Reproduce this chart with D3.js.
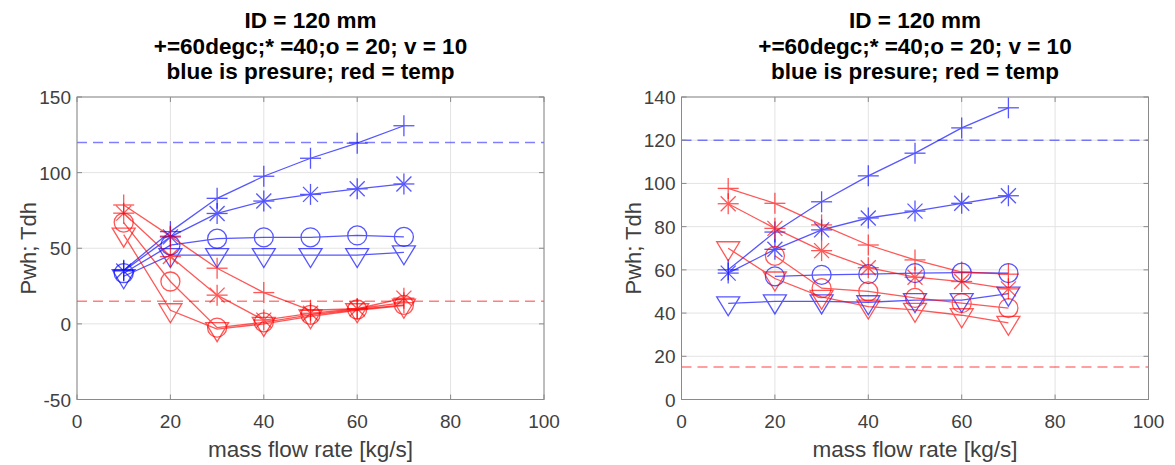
<!DOCTYPE html>
<html>
<head>
<meta charset="utf-8">
<script src="https://cdn.jsdelivr.net/npm/d3@7"></script>
<style>
  body { margin: 0; background: #fff; }
  text { font-family: "Liberation Sans", Arial, sans-serif; }
</style>
</head>
<body>
<div id="chart"></div>
<script>
// mass flow rates [kg/s]
var flow = [10, 20, 30, 40, 50, 60, 70];

// left panel
var leftBluePlus = [35.5, 61, 83, 97.6, 109.5, 119.5, 131];
var leftBlueStar = [35, 57.5, 73, 81.2, 85.6, 89.3, 92.5];
var leftBlueCirc = [33.5, 52, 56.3, 57.2, 57.2, 58.5, 57.5];
var leftBlueTri = [31.5, 45.5, 45.5, 45.5, 45.5, 45.5, 47.3];
var leftRedPlus = [78.6, 58, 36.8, 20.7, 9, 10, 14];
var leftRedStar = [73.2, 44.5, 19, 2.5, 7, 10, 17];
var leftRedCirc = [67, 28, -2.5, 1, 6, 9.5, 12.5];
var leftRedTri = [59, 9, -3.5, 0, 5, 9, 12];

// right panel (o series has no point at 10)
var rightBluePlus = [60, 77.5, 91.5, 103.5, 114, 125.7, 135];
var rightBlueStar = [58.5, 69.5, 78.5, 84, 87.2, 90.8, 94.3];
var rightBlueCirc = [null, 57, 57.7, 58, 58.5, 58.7, 58.5];
var rightBlueTri = [44.5, 45.4, 45.4, 45, 46, 46, 49];
var rightRedPlus = [97.7, 90.8, 80.8, 71.5, 64.6, 59, 58];
var rightRedStar = [90.6, 79.2, 68.9, 61, 56.6, 54.6, 51.2];
var rightRedCirc = [null, 66.5, 51.5, 50, 47, 44.6, 42.3];
var rightRedTri = [70, 56, 47.5, 43, 41.5, 39, 35.5];

var xTicks = [0, 20, 40, 60, 80, 100];
var leftYTicks = [-50, 0, 50, 100, 150];
var rightYTicks = [0, 20, 40, 60, 80, 100, 120, 140];
var pressureLimit = 120, tempLimit = 15;

var titleLines = ['ID = 120 mm', '+=60degc;* =40;o = 20; v = 10', 'blue is presure; red = temp'];

var W = 1175, H = 465;
var svg = d3.select('#chart').append('svg').attr('width', W).attr('height', H);

function marker(g, kind, color) {
  g.attr('stroke', color).attr('fill', 'none');
  if (kind === 'plus' || kind === 'star') {
    g.append('line').attr('x1', -10.5).attr('x2', 10.5).attr('y1', 0).attr('y2', 0);
    g.append('line').attr('x1', 0).attr('x2', 0).attr('y1', -10.5).attr('y2', 10.5);
  }
  if (kind === 'star') {
    g.append('line').attr('x1', -7.5).attr('x2', 7.5).attr('y1', -7.5).attr('y2', 7.5);
    g.append('line').attr('x1', -7.5).attr('x2', 7.5).attr('y1', 7.5).attr('y2', -7.5);
  }
  if (kind === 'circ') {
    g.append('circle').attr('r', 9.5);
  }
  if (kind === 'tri') {
    g.append('path').attr('d', 'M-11.5,-6.5L11.5,-6.5L0,12.5Z');
  }
}

function panel(left, yDomain, yTicks, series) {
  var top = 97, bottom = 399.5, right = left + 467;
  var x = d3.scaleLinear().domain([0, 100]).range([left, right]);
  var y = d3.scaleLinear().domain(yDomain).range([bottom, top]);
  var g = svg.append('g');

  // grid
  g.selectAll('.gx').data(xTicks).enter().append('line')
    .attr('x1', d => x(d)).attr('x2', d => x(d)).attr('y1', top).attr('y2', bottom)
    .attr('stroke', '#e3e3e3').attr('stroke-width', 1);
  g.selectAll('.gy').data(yTicks).enter().append('line')
    .attr('x1', left).attr('x2', right).attr('y1', d => y(d)).attr('y2', d => y(d))
    .attr('stroke', '#e3e3e3').attr('stroke-width', 1);

  // reference levels
  [[pressureLimit, 'rgba(0,0,255,0.5)'], [tempLimit, 'rgba(255,0,0,0.5)']].forEach(function(r) {
    g.append('line').attr('x1', left).attr('x2', right)
      .attr('y1', y(r[0])).attr('y2', y(r[0]))
      .attr('stroke', r[1]).attr('stroke-width', 1.5).attr('stroke-dasharray', '10,6');
  });

  // data
  var line = d3.line().defined(d => d[1] != null).x(d => x(d[0])).y(d => y(d[1]));
  series.forEach(function(s) {
    var pts = flow.map((f, i) => [f, s.v[i]]);
    var sg = g.append('g').attr('opacity', 0.66);
    sg.append('path').attr('d', line(pts)).attr('fill', 'none')
      .attr('stroke', s.c).attr('stroke-width', 1.3);
    pts.filter(d => d[1] != null).forEach(function(d) {
      var m = sg.append('g').attr('transform', 'translate(' + x(d[0]) + ',' + y(d[1]) + ')')
        .attr('stroke-width', 1.3);
      marker(m, s.k, s.c);
    });
  });

  // box and ticks
  g.append('rect').attr('x', left).attr('y', top).attr('width', right - left).attr('height', bottom - top)
    .attr('fill', 'none').attr('stroke', '#8a8a8a').attr('stroke-width', 1);
  xTicks.forEach(function(t) {
    g.append('line').attr('x1', x(t)).attr('x2', x(t)).attr('y1', bottom).attr('y2', bottom - 5).attr('stroke', '#8a8a8a');
    g.append('line').attr('x1', x(t)).attr('x2', x(t)).attr('y1', top).attr('y2', top + 5).attr('stroke', '#8a8a8a');
  });
  yTicks.forEach(function(t) {
    g.append('line').attr('x1', left).attr('x2', left + 5).attr('y1', y(t)).attr('y2', y(t)).attr('stroke', '#8a8a8a');
    g.append('line').attr('x1', right).attr('x2', right - 5).attr('y1', y(t)).attr('y2', y(t)).attr('stroke', '#8a8a8a');
  });

  g.selectAll('.xl').data(xTicks).enter().append('text')
    .attr('x', d => x(d)).attr('y', bottom + 28).attr('text-anchor', 'middle')
    .attr('font-size', 19).attr('fill', '#404040').text(d => d);
  g.selectAll('.yl').data(yTicks).enter().append('text')
    .attr('x', left - 6).attr('y', d => y(d) + 7).attr('text-anchor', 'end')
    .attr('font-size', 19).attr('fill', '#404040').text(d => d);

  var cx = (left + right) / 2;
  g.append('text').attr('x', cx).attr('y', 457).attr('text-anchor', 'middle')
    .attr('font-size', 22.5).attr('fill', '#404040').text('mass flow rate [kg/s]');
  g.append('text').attr('transform', 'translate(' + (left - 41) + ',' + (top + bottom) / 2 + ') rotate(-90)')
    .attr('text-anchor', 'middle').attr('font-size', 22).attr('fill', '#404040').text('Pwh; Tdh');

  titleLines.forEach(function(t, i) {
    g.append('text').attr('x', cx).attr('y', 28 + i * 25.5).attr('text-anchor', 'middle')
      .attr('font-size', 22.5).attr('font-weight', 'bold').attr('fill', '#000').text(t);
  });
}

panel(77, [-50, 150], leftYTicks, [
  { v: leftBluePlus, k: 'plus', c: '#0000ff' },
  { v: leftBlueStar, k: 'star', c: '#0000ff' },
  { v: leftBlueCirc, k: 'circ', c: '#0000ff' },
  { v: leftBlueTri, k: 'tri', c: '#0000ff' },
  { v: leftRedPlus, k: 'plus', c: '#ff0000' },
  { v: leftRedStar, k: 'star', c: '#ff0000' },
  { v: leftRedCirc, k: 'circ', c: '#ff0000' },
  { v: leftRedTri, k: 'tri', c: '#ff0000' }
]);

panel(681.5, [0, 140], rightYTicks, [
  { v: rightBluePlus, k: 'plus', c: '#0000ff' },
  { v: rightBlueStar, k: 'star', c: '#0000ff' },
  { v: rightBlueCirc, k: 'circ', c: '#0000ff' },
  { v: rightBlueTri, k: 'tri', c: '#0000ff' },
  { v: rightRedPlus, k: 'plus', c: '#ff0000' },
  { v: rightRedStar, k: 'star', c: '#ff0000' },
  { v: rightRedCirc, k: 'circ', c: '#ff0000' },
  { v: rightRedTri, k: 'tri', c: '#ff0000' }
]);
</script>
</body>
</html>
